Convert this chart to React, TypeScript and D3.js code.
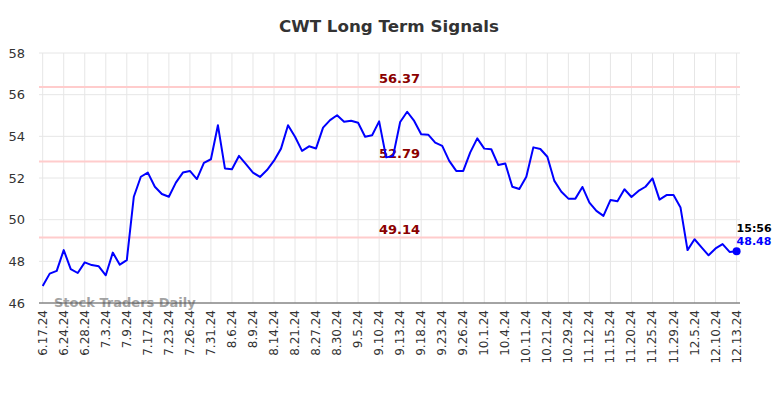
import React from "react";
import * as d3 from "d3";

const title = "CWT Long Term Signals";

const values: number[] = [
  46.82, 47.41, 47.54, 48.54, 47.63, 47.44, 47.95, 47.82, 47.76, 47.33,
  48.42, 47.84, 48.06, 51.10, 52.06, 52.26, 51.58, 51.23, 51.10, 51.78,
  52.26, 52.34, 51.95, 52.73, 52.90, 54.53, 52.46, 52.42, 53.06, 52.67,
  52.26, 52.05, 52.38, 52.83, 53.41, 54.53, 53.98, 53.30, 53.52, 53.42,
  54.42, 54.78, 55.01, 54.70, 54.75, 54.65, 53.98, 54.05, 54.72, 52.99,
  53.06, 54.69, 55.18, 54.74, 54.10, 54.08, 53.70, 53.54, 52.82, 52.34,
  52.34, 53.23, 53.90, 53.41, 53.38, 52.62, 52.70, 51.58, 51.47, 52.06,
  53.47, 53.39, 53.02, 51.86, 51.34, 51.01, 51.01, 51.57, 50.82, 50.42,
  50.18, 50.94, 50.88, 51.46, 51.09, 51.38, 51.58, 51.98, 50.96, 51.18,
  51.18, 50.58, 48.54, 49.06, 48.67, 48.29, 48.62, 48.83, 48.45, 48.48,
];

const tickLabels: string[] = [
  "6.17.24", "6.24.24", "6.28.24", "7.3.24", "7.9.24", "7.17.24", "7.23.24",
  "7.26.24", "7.31.24", "8.6.24", "8.9.24", "8.14.24", "8.21.24", "8.27.24",
  "8.30.24", "9.5.24", "9.10.24", "9.13.24", "9.18.24", "9.23.24", "9.26.24",
  "10.1.24", "10.4.24", "10.11.24", "10.21.24", "10.29.24", "11.12.24",
  "11.15.24", "11.20.24", "11.25.24", "11.29.24", "12.5.24", "12.10.24",
  "12.13.24",
];
const tickEvery = 3;

const yTicks: number[] = [46, 48, 50, 52, 54, 56, 58];
const signalLevels: number[] = [56.37, 52.79, 49.14];
const lastTime = "15:56";

const W = 784;
const H = 398;
const plotLeft = 39;
const plotRight = 740;
const plotTop = 53;
const plotBottom = 303;
const font = "'DejaVu Sans', Verdana, sans-serif";

export default function App() {
  const x = d3
    .scaleLinear()
    .domain([0, values.length - 1])
    .range([42.7, 736.6]);
  const y = d3.scaleLinear().domain([46, 58]).range([plotBottom, plotTop]);

  const line = d3
    .line<number>()
    .x((_, i) => x(i))
    .y((d) => y(d));

  const tickIdx = tickLabels.map((_, i) => i * tickEvery);
  const lastI = values.length - 1;
  const last = values[lastI];
  const midX = (plotLeft + plotRight) / 2 + 10;

  return (
    <svg
      width={W}
      height={H}
      style={{ position: "absolute", left: 0, top: 0, background: "#fff" }}
      fontFamily={font}
    >
      <rect x={0} y={0} width={W} height={H} fill="#fff" />
      <text
        x={389}
        y={32}
        textAnchor="middle"
        fontSize={16.7}
        fontWeight="bold"
        fill="#333"
      >
        {title}
      </text>

      {/* horizontal grid */}
      {yTicks.map((t) => (
        <line
          key={"h" + t}
          x1={plotLeft}
          x2={plotRight}
          y1={y(t)}
          y2={y(t)}
          stroke="#e6e6e6"
          strokeWidth={1}
        />
      ))}
      {/* vertical grid */}
      {tickIdx.map((i) => (
        <line
          key={"v" + i}
          x1={x(i)}
          x2={x(i)}
          y1={plotTop}
          y2={plotBottom}
          stroke="#e6e6e6"
          strokeWidth={1}
        />
      ))}

      {/* y labels */}
      {yTicks.map((t) => (
        <text
          key={"yl" + t}
          x={25}
          y={y(t)}
          dy="0.35em"
          textAnchor="end"
          fontSize={13}
          fill="#333"
        >
          {t}
        </text>
      ))}

      {/* signal lines */}
      {signalLevels.map((s) => (
        <g key={"s" + s}>
          <line
            x1={plotLeft}
            x2={plotRight}
            y1={y(s)}
            y2={y(s)}
            stroke="#ffcccc"
            strokeWidth={2}
          />
          <text
            x={midX}
            y={y(s) - 4}
            textAnchor="middle"
            fontSize={13}
            fontWeight="bold"
            fill="#8b0000"
          >
            {s.toFixed(2)}
          </text>
        </g>
      ))}

      {/* watermark */}
      <text
        x={54}
        y={307}
        fontSize={13}
        fontWeight="bold"
        fill="#999"
        opacity={0.9}
      >
        Stock Traders Daily
      </text>

      {/* bottom axis line */}
      <line
        x1={plotLeft}
        x2={plotRight}
        y1={plotBottom}
        y2={plotBottom}
        stroke="#555"
        strokeWidth={1}
      />

      {/* data line */}
      <path
        d={line(values) || ""}
        fill="none"
        stroke="#0000ff"
        strokeWidth={2}
        strokeLinejoin="round"
      />
      <circle cx={x(lastI)} cy={y(last)} r={4} fill="#0000ff" />
      <text
        x={x(lastI)}
        y={y(last) - 19}
        fontSize={11}
        fontWeight="bold"
        fill="#000"
      >
        {lastTime}
      </text>
      <text
        x={x(lastI)}
        y={y(last) - 6}
        fontSize={11}
        fontWeight="bold"
        fill="#0000ff"
      >
        {last.toFixed(2)}
      </text>

      {/* x labels */}
      {tickIdx.map((i, k) => (
        <text
          key={"xl" + i}
          transform={`translate(${x(i) + 4},${310}) rotate(-90)`}
          textAnchor="end"
          fontSize={12}
          fill="#333"
        >
          {tickLabels[k]}
        </text>
      ))}
    </svg>
  );
}
